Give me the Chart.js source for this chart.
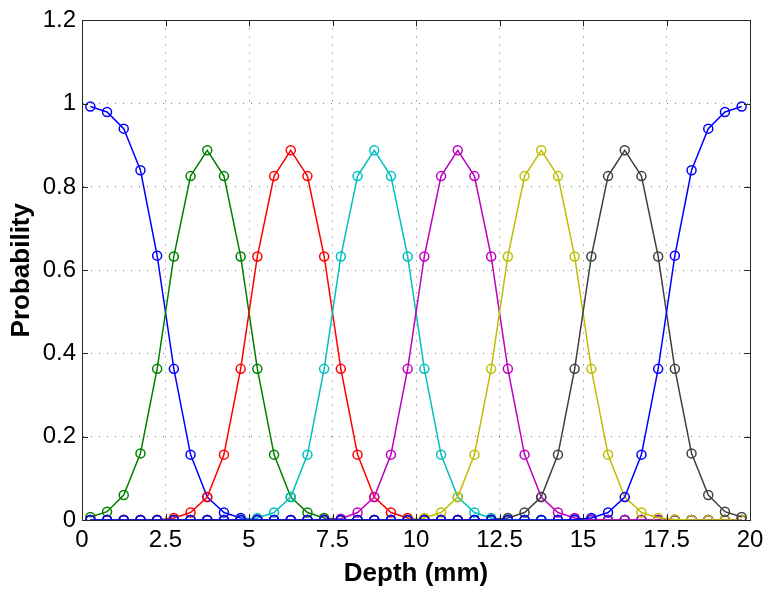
<!DOCTYPE html>
<html>
<head>
<meta charset="utf-8">
<script src="https://cdn.jsdelivr.net/npm/chart.js@4.4.1/dist/chart.umd.min.js"></script>
<style>
html,body{margin:0;padding:0;background:#fff;}
#wrap{width:774px;height:591px;position:relative;}
</style>
</head>
<body>
<div id="wrap"><canvas id="c" width="774" height="591"></canvas></div>
<script>
const depths = [0.25,0.75,1.25,1.75,2.25,2.75,3.25,3.75,4.25,4.75,5.25,5.75,6.25,6.75,7.25,7.75,8.25,8.75,9.25,9.75,10.25,10.75,11.25,11.75,12.25,12.75,13.25,13.75,14.25,14.75,15.25,15.75,16.25,16.75,17.25,17.75,18.25,18.75,19.25,19.75];

const blueLeft = [0.993,0.98,0.94,0.84,0.635,0.363,0.157,0.055,0.018,0.005,0.001,0,0,0,0,0,0,0,0,0,0,0,0,0,0,0,0,0,0,0,0,0,0,0,0,0,0,0,0,0];
const green    = [0.007,0.02,0.06,0.16,0.363,0.633,0.826,0.888,0.826,0.633,0.363,0.157,0.055,0.018,0.005,0.001,0,0,0,0,0,0,0,0,0,0,0,0,0,0,0,0,0,0,0,0,0,0,0,0];
const red      = [0,0,0,0,0,0.005,0.018,0.055,0.157,0.363,0.633,0.826,0.888,0.826,0.633,0.363,0.157,0.055,0.018,0.005,0.001,0,0,0,0,0,0,0,0,0,0,0,0,0,0,0,0,0,0,0];
const cyan     = [0,0,0,0,0,0,0,0,0,0.001,0.005,0.018,0.055,0.157,0.363,0.633,0.826,0.888,0.826,0.633,0.363,0.157,0.055,0.018,0.005,0.001,0,0,0,0,0,0,0,0,0,0,0,0,0,0];
const magenta  = [0,0,0,0,0,0,0,0,0,0,0,0,0,0,0.001,0.003,0.018,0.055,0.157,0.363,0.633,0.826,0.888,0.826,0.633,0.363,0.157,0.055,0.018,0.005,0.001,0,0,0,0,0,0,0,0,0];
const yellow   = [0,0,0,0,0,0,0,0,0,0,0,0,0,0,0,0,0,0,0,0.001,0.005,0.018,0.055,0.157,0.363,0.633,0.826,0.888,0.826,0.633,0.363,0.157,0.055,0.018,0.005,0.001,0,0,0,0];
const gray     = [0,0,0,0,0,0,0,0,0,0,0,0,0,0,0,0,0,0,0,0,0,0,0,0,0.001,0.005,0.018,0.055,0.157,0.363,0.633,0.826,0.888,0.826,0.633,0.363,0.16,0.06,0.02,0.007];
const blueRight= [0,0,0,0,0,0,0,0,0,0,0,0,0,0,0,0,0,0,0,0,0,0,0,0,0,0,0,0,0,0.001,0.005,0.018,0.055,0.157,0.363,0.635,0.84,0.94,0.98,0.993];

const seriesList = [blueLeft, green, red, cyan, magenta, yellow, gray, blueRight];
const seriesColors = ['#0000FF','#008000','#FF0000','#00BFBF','#BF00BF','#BFBF00','#404040','#0000FF'];

const xTickValues = [0,2.5,5,7.5,10,12.5,15,17.5,20];
const xTickLabels = ['0','2.5','5','7.5','10','12.5','15','17.5','20'];
const yTickValues = [0,0.2,0.4,0.6,0.8,1,1.2];
const yTickLabels = ['0','0.2','0.4','0.6','0.8','1','1.2'];

const datasets = seriesList.map((vals, i) => ({
  data: depths.map((d, k) => ({x: d, y: vals[k]})),
  borderColor: seriesColors[i],
  borderWidth: 1.5,
  pointRadius: 4.5,
  pointHoverRadius: 4.5,
  pointBorderWidth: 1.5,
  pointBorderColor: seriesColors[i],
  pointBackgroundColor: 'rgba(0,0,0,0)',
  fill: false,
  tension: 0,
  order: seriesList.length - 1 - i
}));

const boxPlugin = {
  id: 'boxTicks',
  afterDraw(chart) {
    const {ctx, chartArea: a, scales} = chart;
    const L = 6;
    ctx.save();
    ctx.strokeStyle = '#262626';
    ctx.lineWidth = 1;
    ctx.beginPath();
    ctx.rect(Math.round(a.left)+0.5, Math.round(a.top)+0.5, Math.round(a.right-a.left), Math.round(a.bottom-a.top));
    ctx.stroke();
    ctx.beginPath();
    xTickValues.forEach(v => {
      const px = Math.round(scales.x.getPixelForValue(v)) + 0.5;
      ctx.moveTo(px, a.bottom); ctx.lineTo(px, a.bottom - L);
      ctx.moveTo(px, a.top); ctx.lineTo(px, a.top + L);
    });
    yTickValues.forEach(v => {
      const py = Math.round(scales.y.getPixelForValue(v)) + 0.5;
      ctx.moveTo(a.left, py); ctx.lineTo(a.left + L, py);
      ctx.moveTo(a.right, py); ctx.lineTo(a.right - L, py);
    });
    ctx.stroke();
    ctx.restore();
  }
};

new Chart(document.getElementById('c'), {
  type: 'line',
  data: { datasets },
  plugins: [boxPlugin],
  options: {
    responsive: false,
    animation: false,
    events: [],
    layout: { padding: { top: 17, right: 24, left: 0, bottom: 0 } },
    plugins: { legend: { display: false }, tooltip: { enabled: false } },
    scales: {
      x: {
        type: 'linear', min: 0, max: 20,
        afterBuildTicks: s => { s.ticks = xTickValues.map(v => ({value: v})); },
        afterFit: s => { s.height = 71; },
        ticks: {
          callback: (v, i) => xTickLabels[i],
          color: '#000', font: { family: 'Liberation Sans, Arial, sans-serif', size: 24 },
          padding: 6, maxRotation: 0, autoSkip: false
        },
        grid: { color: 'rgba(0,0,0,0.55)', lineWidth: 1, drawTicks: false },
        border: { display: true, color: '#262626', dash: [1, 7] },
        title: { display: true, text: 'Depth (mm)', color: '#000',
          font: { family: 'Liberation Sans, Arial, sans-serif', size: 26, weight: 'bold' }, padding: { top: 0, bottom: 2 } }
      },
      y: {
        type: 'linear', min: 0, max: 1.2,
        afterBuildTicks: s => { s.ticks = yTickValues.map(v => ({value: v})); },
        afterFit: s => { s.width = 82; },
        ticks: {
          callback: (v, i) => yTickLabels[i],
          color: '#000', font: { family: 'Liberation Sans, Arial, sans-serif', size: 24 },
          padding: 6, autoSkip: false
        },
        grid: { color: 'rgba(0,0,0,0.55)', lineWidth: 1, drawTicks: false },
        border: { display: true, color: '#262626', dash: [1, 7] },
        title: { display: true, text: 'Probability', color: '#000',
          font: { family: 'Liberation Sans, Arial, sans-serif', size: 26, weight: 'bold' }, padding: { top: 6, bottom: 0 } }
      }
    }
  }
});
</script>
</body>
</html>
